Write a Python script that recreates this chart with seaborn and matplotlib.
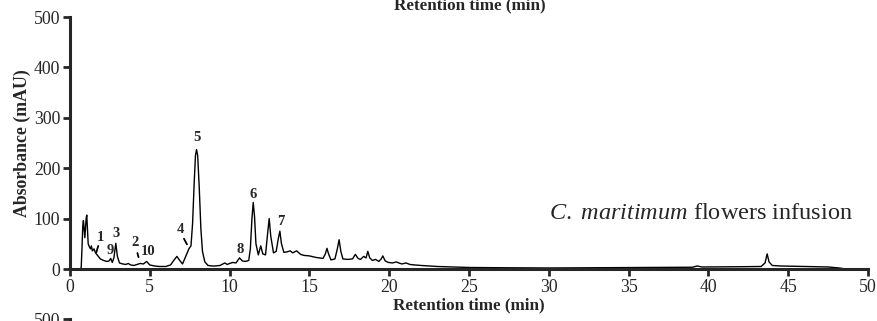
import seaborn as sns
import matplotlib.pyplot as plt
import pandas as pd

# retention time (min) and absorbance (mAU)
time_min = [0, 0.6, 0.7, 0.75, 0.8, 0.84, 0.88, 0.93, 0.97, 1.01, 1.05, 1.09, 1.14, 1.2,
            1.28, 1.34, 1.4, 1.5, 1.6, 1.75, 1.9, 2.1, 2.3, 2.45, 2.55, 2.65, 2.75, 2.87,
            2.97, 3.1, 3.3, 3.5, 3.65, 3.8, 4.0, 4.2, 4.4, 4.6, 4.8, 5.0, 5.3, 5.6, 6.0,
            6.3, 6.5, 6.7, 6.85, 7.05, 7.25, 7.45, 7.58, 7.68, 7.78, 7.86, 7.93, 8.0,
            8.1, 8.2, 8.3, 8.45, 8.65, 8.9, 9.1, 9.4, 9.7, 9.85, 10.0, 10.2, 10.4, 10.62, 10.8,
            11.0, 11.2, 11.3, 11.4, 11.48, 11.56, 11.65, 11.8, 11.95, 12.08, 12.25, 12.38,
            12.48, 12.58, 12.75, 12.92, 13.05, 13.15, 13.25, 13.4, 13.6, 13.8, 13.95, 14.2,
            14.45, 14.65, 15.0, 15.4, 15.85, 16.0, 16.1, 16.2, 16.35, 16.6, 16.75, 16.86,
            16.97, 17.1, 17.4, 17.7, 17.88, 18.05, 18.2, 18.4, 18.55, 18.66, 18.78, 18.95,
            19.15, 19.35, 19.5, 19.6, 19.75, 19.95, 20.2, 20.45, 20.6, 20.8, 21.05, 21.3,
            21.6, 22.0, 23.0, 24.0, 25.0, 27.0, 30.0, 33.0, 36.0, 39.0, 39.3, 39.6, 42.0,
            43.3, 43.55, 43.68, 43.8, 44.0, 44.5, 46.0, 47.5, 48.2, 48.6, 50]
absorbance = [0, 0, 2, 40, 85, 96, 80, 62, 80, 100, 107, 80, 50, 45,
              40, 46, 36, 40, 32, 26, 20, 17, 15, 16, 21, 13, 22, 51,
              25, 12, 10, 9, 11, 8, 7, 9, 11, 10, 15, 8, 6, 5, 5,
              8, 17, 25, 18, 10, 25, 40, 46, 90, 170, 225, 237, 225,
              160, 80, 35, 14, 7, 6, 6, 7, 12, 9, 11, 13, 12, 22, 16,
              15, 17, 40, 100, 132, 105, 50, 28, 46, 30, 28, 70,
              100, 65, 32, 35, 60, 75, 50, 33, 34, 36, 32, 36,
              29, 27, 26, 23, 21, 30, 41, 30, 18, 20, 40, 58,
              35, 20, 19, 20, 29, 21, 19, 25, 22, 35, 22, 17,
              19, 15, 20, 26, 16, 13, 12, 14, 12, 10, 12, 9,
              8, 7, 5, 4, 3, 2.5, 2, 2.5, 3, 3.5, 6, 4, 4.5,
              5, 12, 30, 14, 7, 6, 5, 4, 2, 0, 0]

# peak labels: number, text position, arrow (if any)
peak_ids = ["1", "9", "3", "2", "10", "4", "5", "6", "7", "8"]
label_t = [1.88, 2.51, 2.88, 4.07, 4.9, 6.89, 7.96, 11.49, 13.2, 10.65]
label_a = [63, 36, 71, 52, 34, 79, 260, 148, 95, 39]
arrow_ids = ["1", "2", "4"]
arrow_from = [(1.82, 51), (4.18, 37), (7.06, 65)]
arrow_to = [(1.60, 28), (4.34, 18), (7.41, 44)]

df = pd.DataFrame({"time": time_min, "abs": absorbance})

sns.set_style("ticks")
plt.rcParams["font.family"] = ["Liberation Serif", "DejaVu Serif"]
plt.rcParams["mathtext.fontset"] = "custom"
plt.rcParams["mathtext.it"] = "Liberation Serif:italic"
plt.rcParams["mathtext.rm"] = "Liberation Serif"

fig = plt.figure(figsize=(8.78, 3.21), dpi=100)
ax = fig.add_axes([70/878, 1 - 269/321, 798/878, 252/321])

sns.lineplot(data=df, x="time", y="abs", color="black", lw=1.0, ax=ax)

for pid, t, a in zip(peak_ids, label_t, label_a):
    ax.text(t, a, pid, ha="center", va="center", fontsize=10.5, fontweight="bold")
for p0, p1 in zip(arrow_from, arrow_to):
    ax.annotate("", xy=p1, xytext=p0, arrowprops=dict(arrowstyle="-", color="black", lw=1.3))

ax.text(49.06, 111, r"$\mathit{C.\ maritimum}$ flowers infusion", ha="right", va="center",
        fontsize=17.5)

ax.set_xlim(0, 50)
ax.set_ylim(0, 500)
ax.set_xticks(range(0, 51, 5))
ax.set_yticks(range(0, 501, 100))
ax.set_xlabel("Retention time (min)", fontsize=12.3, fontweight="bold", labelpad=1)
ax.set_ylabel("Absorbance (mAU)", fontsize=12.8, fontweight="bold", labelpad=2)
sns.despine(ax=ax)
for s in ["left", "bottom"]:
    ax.spines[s].set_linewidth(2.2)
ax.tick_params(width=2, length=5, labelsize=12.8, pad=2)

# the next panel starts right below; only its top is visible
ax2 = fig.add_axes([70/878, 1 - 319/321 - 0.8, 798/878, 0.8])
ax2.set_ylim(0, 500)
ax2.set_yticks([500])
ax2.set_xticks([])
sns.despine(ax=ax2, bottom=True)
ax2.spines["left"].set_linewidth(2.2)
ax2.tick_params(width=2, length=5, labelsize=12.8, pad=2)

# x label of the panel above, cut by the top edge
fig.text(470/878, 1 - 9.5/321, "Retention time (min)", ha="center", va="baseline",
         fontsize=12.3, fontweight="bold")

fig.savefig("out.png", dpi=100)
